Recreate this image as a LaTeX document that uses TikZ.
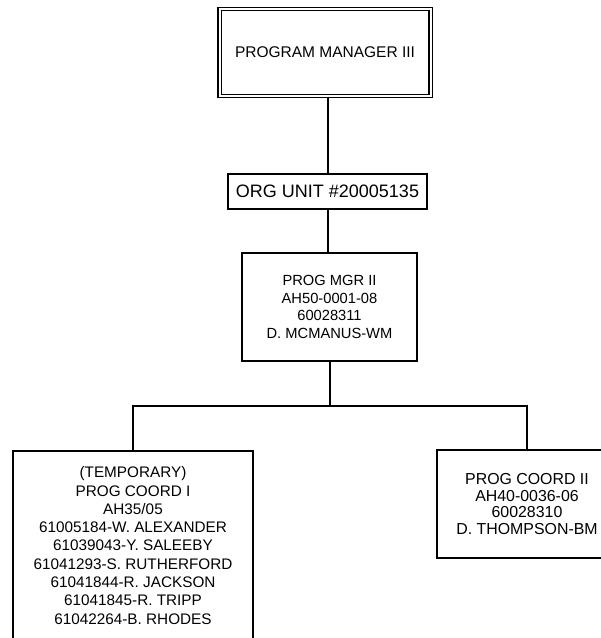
\documentclass[tikz,border=0pt]{standalone}
\usepackage{fontspec}
\setmainfont{Liberation Sans}
\tikzset{
  unit/.style={draw, line width=2pt, inner sep=0pt, align=center,
    font=\fontsize{14.7}{17.5}\selectfont},
  link/.style={line width=2pt}
}
\begin{document}
\begin{tikzpicture}[x=1pt,y=-1pt]
\useasboundingbox (0,0) rectangle (601,638);
\clip (0,0) rectangle (601,638);

% top of the chart
\node [unit, double, double distance=2pt, line width=1.3pt,
  minimum width=211pt, minimum height=87pt,
  font=\fontsize{15.5}{18}\selectfont] (mgr3) at (325,52.5) {PROGRAM MANAGER III};

\node [unit, minimum width=199pt, minimum height=35pt,
  font=\fontsize{18}{21}\selectfont] (org) at (327.5,191.5) {ORG UNIT \#20005135};

\node [unit, minimum width=175pt, minimum height=108pt] (mgr2) at (329.5,307)
  {PROG MGR II\\AH50-0001-08\\60028311\\D. MCMANUS-WM};

\draw [link] (mgr3.south -| org) -- (org.north);
\draw [link] (org.south) -- (org.south |- mgr2.north);

% coordinators
\node [unit, minimum width=240pt, minimum height=189pt,
  font=\fontsize{15.3}{18.3}\selectfont] (coord1) at (133,545.5)
  {(TEMPORARY)\\PROG COORD I\\AH35/05\\61005184-W. ALEXANDER\\61039043-Y. SALEEBY\\61041293-S. RUTHERFORD\\61041844-R. JACKSON\\61041845-R. TRIPP\\61042264-B. RHODES};

\node [unit, minimum width=180pt, minimum height=108pt,
  font=\fontsize{15.9}{16.5}\selectfont] (coord2) at (527,504)
  {PROG COORD II\\AH40-0036-06\\60028310\\D. THOMPSON-BM};

\coordinate (bus) at (330,406);
\draw [link] (mgr2.south -| bus) -- (bus);
\draw [link] (coord1.north) -- (coord1.north |- bus) -- (coord2.north |- bus) -- (coord2.north);
\end{tikzpicture}
\end{document}
